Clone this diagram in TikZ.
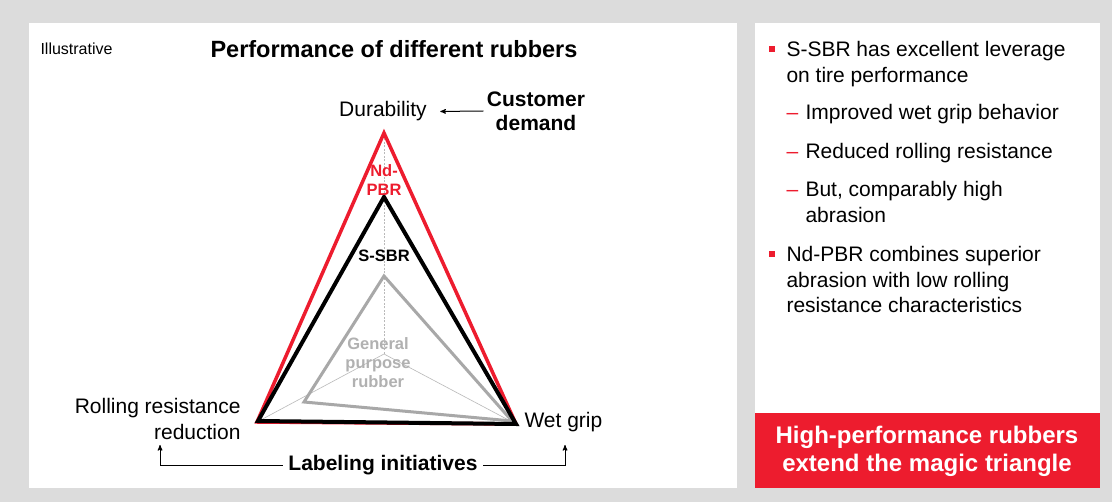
\documentclass[tikz,border=0pt]{standalone}
\usepackage{fontspec}
\setmainfont{Liberation Sans}
\usetikzlibrary{arrows,positioning}

\definecolor{rubred}{RGB}{237,28,46}
\definecolor{bggray}{RGB}{220,220,220}
\definecolor{gprgray}{RGB}{168,168,168}

\begin{document}
\begin{tikzpicture}[x=1pt,y=-1pt,>=stealth',line width=1pt]

  \tikzstyle{txt}=[inner sep=0pt,font=\fontsize{21}{26}\selectfont]
  \tikzstyle{bold}=[inner sep=0pt,font=\fontsize{21}{24}\selectfont\bfseries,align=center]
  \tikzstyle{small}=[inner sep=0pt,font=\fontsize{16.5}{19}\selectfont\bfseries,align=center]
  \tikzstyle{axis}=[draw=gprgray!80,line width=0.6pt]
  \tikzstyle{tri}=[line width=3.5pt,line join=miter]

  % background and panels
  \useasboundingbox (0,0) rectangle (1112,502);
  \fill[bggray] (0,0) rectangle (1112,502);
  \fill[white] (29,23) rectangle (737,488);
  \fill[white] (755,23) rectangle (1100,413);
  \fill[rubred] (755,413) rectangle (1100,488);

  % axes
  \coordinate (c)  at (384,354);
  \coordinate (tp) at (384,133);
  \coordinate (bl) at (257,422);
  \coordinate (br) at (516,424);
  \draw[axis,dash pattern=on 2pt off 1.5pt] (c) -- (tp);
  \draw[axis] (c) -- (bl);
  \draw[axis] (c) -- (br);

  % triangles
  \draw[tri,gprgray,line width=3pt] (384,276) -- (304,402) -- (512,421) -- cycle;
  \draw[tri,rubred] (tp) -- (bl) -- (br) -- cycle;
  \draw[tri,black,line width=4pt] (384,197) -- (258,421) -- (516,424) -- cycle;

  % headings
  \node[inner sep=0pt,font=\fontsize{16}{19}\selectfont,anchor=base west] (ill) at (40,55) {Illustrative};
  \node[inner sep=0pt,font=\fontsize{23.5}{27}\selectfont\bfseries,anchor=base] (title) at (394,58) {Performance of different rubbers};

  % corner labels
  \node[txt,anchor=base,inner sep=3pt] (dur) at (383,117) {Durability};
  \node[bold,inner sep=3pt] (cust) at (536,111) {Customer\\demand};
  \node[txt,align=right,anchor=base east] (rrr) at (241,440) {Rolling resistance\\reduction};
  \node[txt,anchor=base west] (wet) at (524,428) {Wet grip};
  \node[bold,anchor=base] (label) at (383,471) {Labeling initiatives};

  % rubber names
  \node[small,rubred] (nd) at (384,180) {Nd-\\PBR};
  \node[small] (ssbr) at (384,256) {S-SBR};
  \node[small,gprgray!90] (gpr) at (378,363) {General\\purpose\\rubber};

  % demand arrows
  \coordinate (la) at (160,445);
  \coordinate (ra) at (565,445);
  \draw[->,shorten >=10pt] (cust.west) -- (dur.east);
  \draw[->] ([xshift=-5pt]label.west) -| (la);
  \draw[->] ([xshift=5pt]label.east) -| (ra);

  % right panel
  \fill[rubred] (769,46) rectangle (775,52);
  \fill[rubred] (769,251) rectangle (775,257);
  \foreach \y/\t [count=\i] in {57/S-SBR has excellent leverage, 83/on tire performance,
      262/Nd-PBR combines superior, 288/abrasion with low rolling, 313/resistance characteristics}
    \node[txt,anchor=base west] (p\i) at (786,\y) {\t};
  \foreach \y/\t [count=\i] in {120/Improved wet grip behavior, 159/Reduced rolling resistance,
      197/{But, comparably high}}
  {
    \node[txt,anchor=base west,rubred] (d\i) at (786,\y) {--};
    \node[txt,anchor=base west] (s\i) at (805,\y) {\t};
  }
  \node[txt,anchor=base west] (s4) at (805,223) {abrasion};

  \node[inner sep=0pt,font=\fontsize{24}{28}\selectfont\bfseries,text=white,align=center] (box)
    at (927,451) {High-performance rubbers\\extend the magic triangle};
\end{tikzpicture}
\end{document}
